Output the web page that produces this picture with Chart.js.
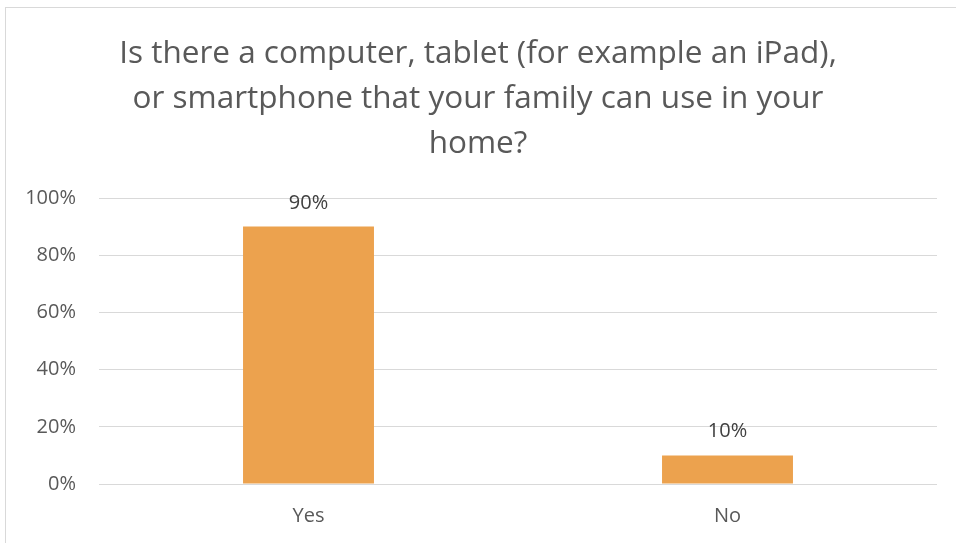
<!DOCTYPE html>
<html>
<head>
<meta charset="utf-8">
<script src="https://cdn.jsdelivr.net/npm/chart.js@4/dist/chart.umd.min.js"></script>
<style>
  html, body { margin: 0; padding: 0; background: #fff; overflow: hidden; }
  #frame { position: absolute; left: 5px; top: 7px; width: 2000px; height: 2000px; border: 1px solid #d9d9d9; }
  #c { position: absolute; left: 0; top: 0; }
</style>
</head>
<body>
<div id="frame"></div>
<canvas id="c" width="956" height="543"></canvas>
<script>
const titleLines = ["Is there a computer, tablet (for example an iPad),", "or smartphone that your family can use in your", "home?"];
const categories = ["Yes", "No"];
const values = [90, 10];
const yTicks = [0, 20, 40, 60, 80, 100];

const FONT = "'Open Sans', sans-serif";

const dataLabels = {
  id: 'dataLabels',
  afterDatasetsDraw(chart) {
    const ctx = chart.ctx;
    const meta = chart.getDatasetMeta(0);
    ctx.save();
    ctx.font = "20px " + FONT;
    ctx.fillStyle = "#404040";
    ctx.textAlign = "center";
    ctx.textBaseline = "alphabetic";
    meta.data.forEach((bar, i) => {
      ctx.fillText(values[i] + "%", bar.x, bar.y - 18);
    });
    ctx.restore();
  }
};

const centerTitle = {
  id: 'centerTitle',
  afterLayout(chart) {
    if (chart.titleBlock) {
      chart.titleBlock.left = 0;
      chart.titleBlock.right = chart.width;
      chart.titleBlock.width = chart.width;
    }
  }
};

new Chart(document.getElementById('c'), {
  type: 'bar',
  data: {
    labels: categories,
    datasets: [{
      data: values,
      backgroundColor: '#eca24e',
      borderWidth: 0,
      categoryPercentage: 1,
      barPercentage: 0.3125
    }]
  },
  options: {
    responsive: false,
    devicePixelRatio: 1,
    animation: false,
    layout: { padding: { left: 0, right: 19, top: 0, bottom: 0 } },
    plugins: {
      legend: { display: false },
      tooltip: { enabled: false },
      title: {
        display: true,
        text: titleLines,
        color: '#595959',
        font: { family: FONT, size: 31.5, weight: 'normal', lineHeight: 45 / 31.5 },
        padding: { top: 32, bottom: 31 }
      }
    },
    scales: {
      x: {
        grid: { display: false, drawTicks: false },
        border: { display: false },
        ticks: { color: '#595959', font: { family: FONT, size: 20 }, padding: 20 },
        afterFit(scale) { scale.height = 59; }
      },
      y: {
        min: 0,
        max: 100,
        afterBuildTicks(scale) { scale.ticks = yTicks.map(v => ({ value: v })); },
        grid: { color: '#d9d9d9', lineWidth: 1, drawTicks: false },
        border: { display: false },
        ticks: {
          color: '#595959',
          font: { family: FONT, size: 20 },
          padding: 23,
          callback: v => v + '%'
        },
        afterFit(scale) { scale.width = 99; }
      }
    }
  },
  plugins: [centerTitle, dataLabels]
});
</script>
</body>
</html>
